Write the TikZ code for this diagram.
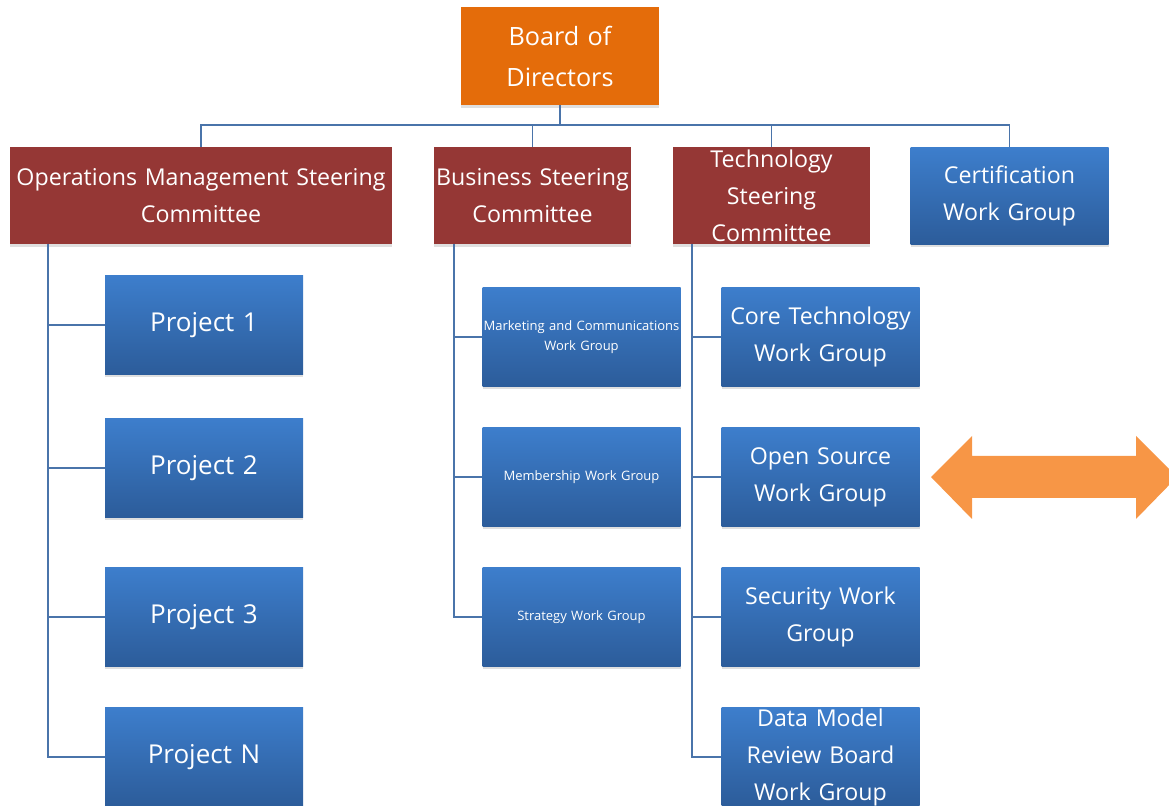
\documentclass[tikz,border=0pt]{standalone}
\usepackage{fontspec}
\setmainfont{Open Sans}
\usetikzlibrary{shadows}

\definecolor{boardorange}{HTML}{E46C0A}
\definecolor{steerred}{HTML}{953735}
\definecolor{grouptop}{HTML}{3D7ECC}
\definecolor{groupbot}{HTML}{2C5C9A}
\definecolor{linkblue}{HTML}{4A74AA}
\definecolor{arroworange}{HTML}{F79646}

\tikzset{
  boardbox/.style={fill=boardorange, text=white, minimum width=99pt, minimum height=49pt, inner sep=0pt, align=center, font=\fontsize{12.6}{20.5}\selectfont, drop shadow={opacity=0.25, shadow xshift=0pt, shadow yshift=-1.5pt}},
  steerbox/.style={fill=steerred, text=white, minimum height=48.5pt, inner sep=0pt, align=center, font=\fontsize{11.6}{18.5}\selectfont, drop shadow={opacity=0.25, shadow xshift=0pt, shadow yshift=-1.5pt}},
  groupbox/.style={top color=grouptop, bottom color=groupbot, text=white, minimum width=99pt, minimum height=49.5pt, inner sep=0pt, align=center, font=\fontsize{11.6}{18.5}\selectfont, drop shadow={opacity=0.25, shadow xshift=0pt, shadow yshift=-1.5pt}},
  smallgroup/.style={groupbox, font=\fontsize{6.5}{10}\selectfont},
  link/.style={draw=linkblue, line width=0.9pt},
}

\begin{document}
\begin{tikzpicture}[x=0.5pt, y=-0.5pt]
        \clip (0,0) rectangle (1169,806);

        % Top of the tree
        \node[boardbox, text width=99pt] (board) at (560,56) {Board of\\Directors};

        % The steering committees and the certification group
        \node[steerbox, minimum width=191pt, text width=191pt] (ops) at (201,196) {Operations Management Steering\\Committee};
        \node[steerbox, minimum width=98.5pt, text width=98.5pt] (biz) at (532.5,196) {Business Steering\\Committee};
        \node[steerbox, minimum width=98.5pt, text width=98.5pt] (tech) at (771.5,196) {Technology\\Steering\\Committee};
        \node[groupbox, minimum height=48.5pt, text width=98.5pt] (cert) at (1009.5,196) {Certification\\Work Group};

        % Projects under operations
        \node[groupbox, text width=99pt, font=\fontsize{13}{19}\selectfont] (proj1) at (204,325) {Project 1};
        \node[groupbox, text width=99pt, font=\fontsize{13}{19}\selectfont] (proj2) at (204,468) {Project 2};
        \node[groupbox, text width=99pt, font=\fontsize{13}{19}\selectfont] (proj3) at (204,617) {Project 3};
        \node[groupbox, text width=99pt, font=\fontsize{13}{19}\selectfont] (projn) at (204,757) {Project N};

        % Work groups under business
        \node[smallgroup, text width=98.5pt] (mkt) at (581.5,337) {Marketing and Communications\\Work Group};
        \node[smallgroup, text width=98.5pt] (member) at (581.5,477) {Membership Work Group};
        \node[smallgroup, text width=98.5pt] (strat) at (581.5,617) {Strategy Work Group};

        % Work groups under technology
        \node[groupbox, text width=98.5pt] (core) at (820.5,337) {Core Technology\\Work Group};
        \node[groupbox, text width=98.5pt] (opensrc) at (820.5,477) {Open Source\\Work Group};
        \node[groupbox, text width=98.5pt] (secur) at (820.5,617) {Security Work\\Group};
        \node[groupbox, text width=98.5pt] (datamodel) at (820.5,757) {Data Model\\Review Board\\Work Group};

        % Bus from the board down to the committees
        \coordinate (bus) at (560,125);
        \draw[link] (board.south) -- (bus);
        \draw[link] (bus) -| (ops.north);
        \draw[link] (bus) -| (biz.north);
        \draw[link] (bus) -| (tech.north);
        \draw[link] (bus) -| (cert.north);

        % Trunks on the left of each column
        \coordinate (opstrunk) at (48,244);
        \coordinate (biztrunk) at (454,244);
        \coordinate (techtrunk) at (692,244);
        \draw[link] (opstrunk) |- (proj1.west);
        \draw[link] (opstrunk) |- (proj2.west);
        \draw[link] (opstrunk) |- (proj3.west);
        \draw[link] (opstrunk) |- (projn.west);
        \draw[link] (biztrunk) |- (mkt.west);
        \draw[link] (biztrunk) |- (member.west);
        \draw[link] (biztrunk) |- (strat.west);
        \draw[link] (techtrunk) |- (core.west);
        \draw[link] (techtrunk) |- (opensrc.west);
        \draw[link] (techtrunk) |- (secur.west);
        \draw[link] (techtrunk) |- (datamodel.west);

        % The wide double arrow
        \fill[arroworange] (931,477) -- (972,436) -- (972,456) -- (1136,456) -- (1136,436) -- (1177,477) -- (1136,519) -- (1136,498) -- (972,498) -- (972,519) -- cycle;

    \end{tikzpicture}
\end{document}
